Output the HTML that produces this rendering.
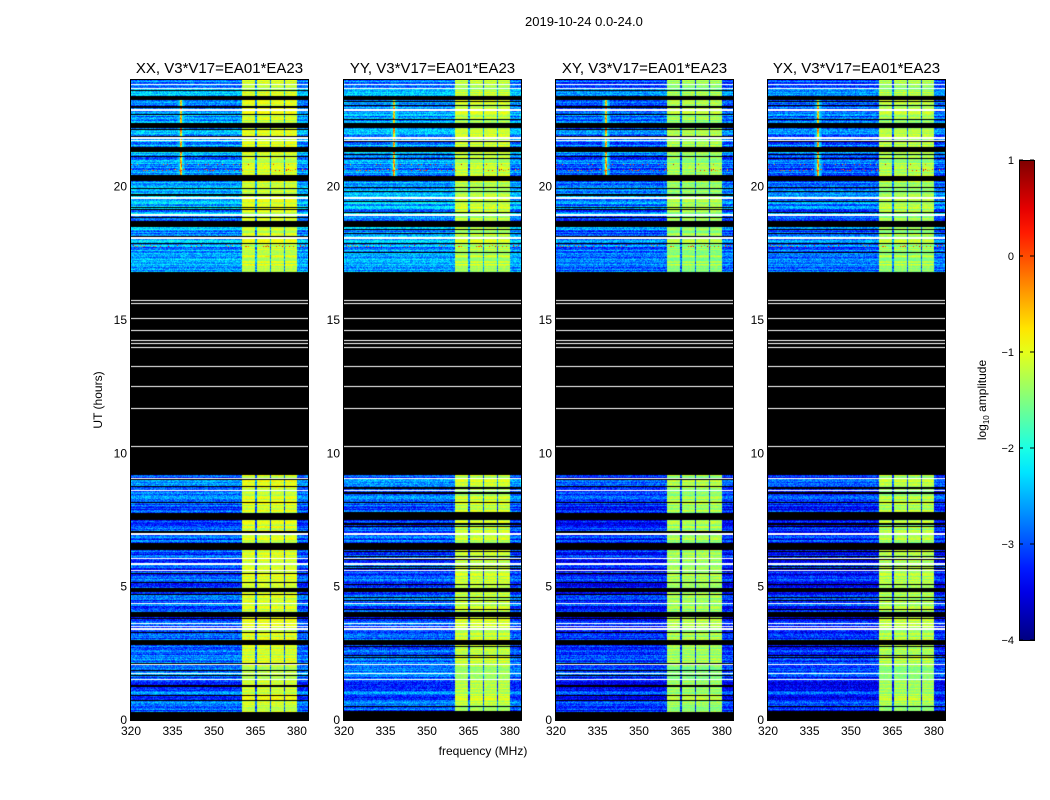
<!DOCTYPE html>
<html><head><meta charset="utf-8"><style>
body{margin:0;background:#fff;font-family:"Liberation Sans","DejaVu Sans",sans-serif;}
#root{position:relative;width:1050px;height:800px;overflow:hidden;background:#fff;}
.t{position:absolute;font-size:13px;color:#000;white-space:nowrap;}
canvas{position:absolute;}
</style></head><body>
<div id="root">
<div class="t" style="left:525px;top:14px;font-size:13px">2019-10-24 0.0-24.0</div>
<svg id="svg" width="1050" height="800" style="position:absolute;left:0;top:0"></svg>
</div>
<script>
// ---- data ----
const panelNames=["XX, V3*V17=EA01*EA23","YY, V3*V17=EA01*EA23","XY, V3*V17=EA01*EA23","YX, V3*V17=EA01*EA23"];
const panelLeft=[131,344,556,768];
const xTicks=[320,335,350,365,380];
const yTicks=[0,5,10,15,20];
const cbTicks=[1,0,-1,-2,-3,-4];
const dataRanges=[[0.3,9.2],[16.7,24]];
const blackBands=[[7.5,7.76],[6.37,6.64],[4.8,4.95],[3.86,4.05],[2.8,3.0],[23.25,23.4],[22.2,22.4],[21.3,21.5],[20.2,20.4],[18.5,18.7],[16.3,16.8]];
const whiteLines=[9.07,8.62,7.0,6.07,5.88,5.63,4.39,3.64,3.52,3.44,2.1,1.76,1.54,15.75,15.64,15.07,14.62,14.25,14.14,13.99,13.27,12.52,11.7,10.27,23.85,23.7,22.9,21.85,21.75,19.6,18.95,18.1];
const rfiBands=[[360,364.6],[365.4,370],[370.6,375],[375.6,380]];
const rfiLevel=[-1.1,-1.2,-1.35,-1.3];
const baseLevel=[-2.95,-2.95,-3.2,-3.2];
const spikeFreq=338;
const spikeHours=[20.3,23.3];
const redRows=[20.65,20.85,17.8];

// ---- axes ----
const X0=131,W=177,YT=80,YB=720;
const fx=f=>(f-320)/(384-320)*W;
const fy=h=>YB-(h/24)*(YB-YT);
const cbY=v=>160+(1-v)/5*480;

function jet(v){let t=(v+4)/5;t=Math.max(0,Math.min(1,t));
 const c=x=>Math.max(0,Math.min(1,1.5-Math.abs(4*t-x)));
 return [c(3)*255,c(2)*255,c(1)*255].map(Math.round);}
function hash(a,b){let h=(a*374761393+b*668265263)^0x5bd1e995;h=(h^(h>>>13))*1274126177;h=h^(h>>>16);return ((h>>>0)%10000)/10000;}
function inR(h,arr){return arr.some(r=>h>=r[0]&&h<r[1]);}

const svg=document.getElementById('svg');const NS="http://www.w3.org/2000/svg";
function el(tag,attrs,txt){const e=document.createElementNS(NS,tag);for(const k in attrs)e.setAttribute(k,attrs[k]);if(txt!==undefined)e.textContent=txt;svg.appendChild(e);return e;}
const root=document.getElementById('root');

panelLeft.forEach((L,p)=>{
 const cv=document.createElement('canvas');cv.width=W;cv.height=YB-YT;cv.style.left=L+'px';cv.style.top=YT+'px';
 
 
 root.appendChild(cv);
 const ctx=cv.getContext('2d');const img=ctx.createImageData(W,YB-YT);
 const rfiPx=rfiBands.map(b=>[fx(b[0]),fx(b[1])]);
 for(let y=0;y<YB-YT;y++){
  const h=(YB-YT-y-0.5)/(YB-YT)*24;
  let state='data';
  if(!inR(h,dataRanges)||inR(h,blackBands))state='black';
  if(whiteLines.some(w=>Math.abs(fy(w)-YT-y)<0.8))state='white';
  if(state==='data'&&hash(y,p%2+7)<0.08)state='black';
  const rowB=baseLevel[p]+(h>16?0.35:0)+(hash(y,13)-0.5)*0.9;
  const rowR=rfiLevel[p]+(hash(y,29)-0.5)*0.5;
  const isRed=redRows.some(r=>Math.abs(fy(r)-YT-y)<0.8);
  for(let x=0;x<W;x++){
   const i=(y*W+x)*4;let col;
   if(state==='black')col=[0,0,0];else if(state==='white')col=[255,255,255];
   else{
    let v=rowB+(hash(x+p*300,y)-0.5)*0.7;
    if(rfiPx.some(b=>x>=b[0]&&x<b[1]))v=rowR+(hash(x,y+5)-0.5)*0.3;
    if(h>spikeHours[0]&&h<spikeHours[1]){const d=Math.abs(x-fx(spikeFreq));
      if(d<1)v=Math.max(v,-1.2+hash(x,y*3)*1.4);else if(d<4)v=Math.max(v,-2.2-0.2*d+hash(y,x)*0.4);}
    if(isRed&&hash(x,y+77)<0.12)v=Math.max(v,-0.5+hash(x,y)*1.0);
    col=jet(v);
   }
   img.data[i]=col[0];img.data[i+1]=col[1];img.data[i+2]=col[2];img.data[i+3]=255;
  }
 }
 ctx.putImageData(img,0,0);
 const fr=el('rect',{x:L-0.5,y:YT-0.5,width:W+1,height:YB-YT+1,fill:'none',stroke:'#000','stroke-width':1});
 
 
 const tt=el('text',{x:L+W/2,y:YT-7,'text-anchor':'middle','font-size':15},panelNames[p]);
 
 
 xTicks.forEach(f=>{const x=L+fx(f);
  el('line',{x1:x,x2:x,y1:YB,y2:YB-4,stroke:'#000'});el('line',{x1:x,x2:x,y1:YT,y2:YT+4,stroke:'#000'});
  const t=el('text',{x:x,y:YB+15,'text-anchor':'middle','font-size':12},f);
  
  });
 yTicks.forEach(v=>{const y=fy(v);
  el('line',{x1:L,x2:L+4,y1:y,y2:y,stroke:'#000'});el('line',{x1:L+W,x2:L+W-4,y1:y,y2:y,stroke:'#000'});
  const t=el('text',{x:L-4,y:y+4,'text-anchor':'end','font-size':12},v);
  
  });
});
const xl=el('text',{x:483,y:755,'text-anchor':'middle','font-size':12},'frequency (MHz)');


const yl=el('text',{x:102,y:400,'text-anchor':'middle','font-size':12,transform:'rotate(-90 102 400)'},'UT (hours)');


// colorbar
const defs=document.createElementNS(NS,'defs');const g=document.createElementNS(NS,'linearGradient');
g.setAttribute('id','jg');g.setAttribute('x1','0');g.setAttribute('y1','1');g.setAttribute('x2','0');g.setAttribute('y2','0');
for(let k=0;k<=20;k++){const s=document.createElementNS(NS,'stop');const c=jet(-4+k/20*5);s.setAttribute('offset',k/20);s.setAttribute('stop-color','rgb('+c.join(',')+')');g.appendChild(s);}
defs.appendChild(g);svg.appendChild(defs);
const cb=el('rect',{x:1019.5,y:160.5,width:15,height:480,fill:'url(#jg)',stroke:'#000'});


cbTicks.forEach(v=>{const y=cbY(v);el('line',{x1:1019,x2:1023,y1:y,y2:y,stroke:'#000'});el('line',{x1:1034,x2:1030,y1:y,y2:y,stroke:'#000'});
 const t=el('text',{x:1014,y:y+4,'text-anchor':'end','font-size':11},v<0?'\u2212'+(-v):v);
 
 });
const cl=el('text',{x:986,y:400,'text-anchor':'middle','font-size':12,transform:'rotate(-90 986 400)'});
cl.innerHTML='log<tspan font-size="8" dy="3">10</tspan><tspan dy="-3"> amplitude</tspan>';


</script>
</body></html>
